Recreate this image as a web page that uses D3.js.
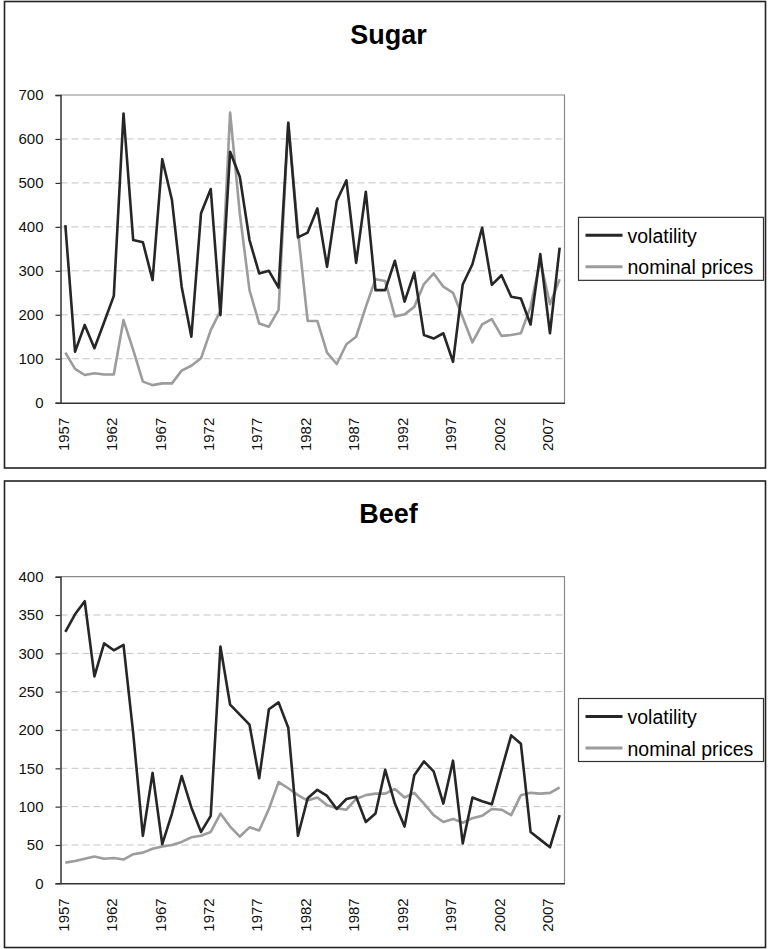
<!DOCTYPE html>
<html><head><meta charset="utf-8">
<script src="https://cdn.jsdelivr.net/npm/d3@7"></script>
<style>
body{margin:0;background:#fff}
svg{display:block}
text{font-family:"Liberation Sans",Arial,Helvetica,sans-serif}
</style>
</head><body>
<svg id="c" width="769" height="949"></svg>
<script>
const years = [1957,1958,1959,1960,1961,1962,1963,1964,1965,1966,1967,1968,1969,1970,1971,1972,1973,1974,1975,1976,1977,1978,1979,1980,1981,1982,1983,1984,1985,1986,1987,1988,1989,1990,1991,1992,1993,1994,1995,1996,1997,1998,1999,2000,2001,2002,2003,2004,2005,2006,2007,2008];
const tickYears = [1957,1962,1967,1972,1977,1982,1987,1992,1997,2002,2007];
const seriesNames = ["volatility","nominal prices"];

const sugarVolatility = [404,116,177,124,183,243,658,370,365,279,554,461,264,150,431,486,199,571,514,370,294,300,262,637,376,387,442,309,459,506,318,480,256,256,323,230,296,154,146,158,93,269,315,398,268,290,241,237,178,338,158,353];
const sugarPrices = [114,77,63,67,64,64,188,120,48,40,44,44,73,84,101,165,209,660,430,256,180,173,211,637,390,186,186,114,88,133,150,218,281,277,196,201,218,270,294,264,250,194,137,178,190,152,154,158,218,324,224,281];
const sugarTicks = [0,100,200,300,400,500,600,700];

const beefVolatility = [328,351,368,270,313,304,311,196,62,144,51,91,140,99,67,88,309,233,220,207,137,227,236,203,62,111,122,114,97,110,113,80,91,148,104,74,141,159,146,104,160,52,112,107,103,148,193,182,67,57,47,89];
const beefPrices = [27,29,32,35,32,33,31,38,40,45,48,50,54,60,62,67,91,74,61,73,69,97,132,124,115,108,112,102,98,96,110,115,117,117,123,112,118,104,89,80,84,79,85,88,97,96,89,115,118,117,118,125];
const beefTicks = [0,50,100,150,200,250,300,350,400];

const svg = d3.select("#c");
const colVol = "#262626", colPrice = "#9c9c9c";

function drawChart(cfg) {
  const g = svg.append("g");
  // outer frame
  g.append("rect").attr("x", 4.5).attr("y", cfg.boxTop).attr("width", 761).attr("height", cfg.boxH)
    .attr("fill", "#fff").attr("stroke", "#222").attr("stroke-width", 1.6);
  // title
  g.append("text").attr("x", 388.5).attr("y", cfg.titleY).attr("text-anchor", "middle")
    .attr("font-size", 27).attr("font-weight", "bold").attr("fill", "#000").text(cfg.title);

  const left = 60.5, right = 564.5, top = cfg.plotTop, bottom = cfg.plotBottom;
  const x = d3.scaleBand().domain(years).range([left, right]);
  const y = d3.scaleLinear().domain([0, cfg.ticks[cfg.ticks.length - 1]]).range([bottom, top]);

  // gridlines
  g.append("g").selectAll("line").data(cfg.ticks.slice(1, -1)).join("line")
    .attr("x1", left).attr("x2", right).attr("y1", d => y(d)).attr("y2", d => y(d))
    .attr("stroke", "#c4c4c4").attr("stroke-width", 1).attr("stroke-dasharray", "7,4");
  // plot frame top/right
  g.append("path").attr("d", `M${left},${y(cfg.ticks[cfg.ticks.length-1])}H${right}V${bottom}`)
    .attr("fill", "none").attr("stroke", "#8a8a8a").attr("stroke-width", 1.2);

  // y axis
  const ya = g.append("g").attr("transform", `translate(${left},0)`)
    .call(d3.axisLeft(y).tickValues(cfg.ticks).tickSize(5).tickPadding(12).tickFormat(d3.format("d")));
  ya.select(".domain").attr("stroke", "#333").attr("stroke-width", 1.5);
  ya.selectAll(".tick line").attr("stroke", "#333").attr("stroke-width", 1.2);
  ya.selectAll("text").attr("font-size", 15).attr("fill", "#111")
    .style("font-family", '"Liberation Sans",Arial,sans-serif');

  // x axis
  const xa = g.append("g").attr("transform", `translate(0,${bottom})`)
    .call(d3.axisBottom(x).tickValues(tickYears).tickSize(0).tickPadding(0));
  xa.select(".domain").attr("stroke", "#333").attr("stroke-width", 1.5);
  xa.selectAll("text").attr("font-size", 15).attr("fill", "#111")
    .style("font-family", '"Liberation Sans",Arial,sans-serif')
    .attr("text-anchor", "end").attr("dy", "0.35em")
    .attr("transform", "translate(-2,15) rotate(-90)").attr("x", 0).attr("y", 0);

  // lines
  const line = d3.line().x((d, i) => x(years[i]) + x.bandwidth() / 2).y(d => y(d));
  g.append("path").datum(cfg.price).attr("d", line).attr("fill", "none")
    .attr("stroke", colPrice).attr("stroke-width", 2.6).attr("stroke-linejoin", "round");
  g.append("path").datum(cfg.vol).attr("d", line).attr("fill", "none")
    .attr("stroke", colVol).attr("stroke-width", 2.6).attr("stroke-linejoin", "round");

  // legend
  const lh = 63, lw = 185;
  const ly = (top + bottom) / 2 - lh / 2;
  const lg = g.append("g").attr("transform", `translate(578.5,${ly})`);
  lg.append("rect").attr("width", lw).attr("height", lh).attr("fill", "#fff")
    .attr("stroke", "#333").attr("stroke-width", 1.2);
  const cols = [colVol, colPrice];
  seriesNames.forEach((name, i) => {
    const cy = 18 + i * 31.5;
    lg.append("line").attr("x1", 7).attr("x2", 44).attr("y1", cy).attr("y2", cy)
      .attr("stroke", cols[i]).attr("stroke-width", 3);
    lg.append("text").attr("x", 49).attr("y", cy + 7.5).attr("font-size", 19.5)
      .attr("fill", "#000").text(name);
  });
}

drawChart({title: "Sugar", vol: sugarVolatility, price: sugarPrices, ticks: sugarTicks,
  boxTop: 1.5, boxH: 466.5, titleY: 44, plotTop: 95, plotBottom: 402.7});
drawChart({title: "Beef", vol: beefVolatility, price: beefPrices, ticks: beefTicks,
  boxTop: 481, boxH: 466.5, titleY: 523, plotTop: 576.7, plotBottom: 883.3});
</script>
</body></html>
